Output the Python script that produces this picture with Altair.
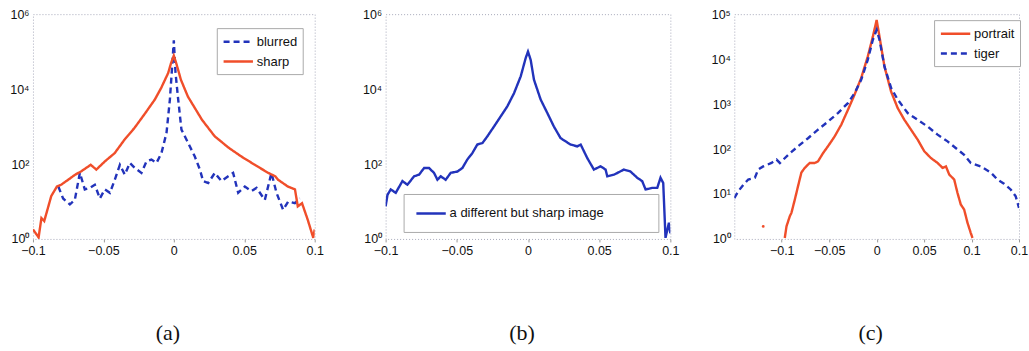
import altair as alt
import pandas as pd

# ---------------- data ----------------
# Panel (a)
a_sharp_x = [-0.1, -0.096, -0.094, -0.092, -0.087, -0.083, -0.080, -0.075, -0.070, -0.066,
             -0.059, -0.055, -0.049, -0.042, -0.035, -0.028, -0.021, -0.0135, -0.009, -0.004,
             -0.002, 0.0, 0.002, 0.005, 0.010, 0.020, 0.029, 0.039, 0.048, 0.0575,
             0.067, 0.072, 0.074, 0.081, 0.086, 0.088, 0.091, 0.095, 0.099, 0.1]
a_sharp_y = [1.8, 1.1, 3.6, 3.0, 14, 25, 28, 38, 52, 63,
             95, 71, 117, 195, 447, 912, 2090, 5250, 10700, 26900,
             49000, 78000, 45000, 17800, 6300, 1510, 550, 270, 158, 95,
             58, 47, 38, 25, 21, 7.4, 9, 3.3, 1.07, 1.8]

a_blur_x = [-0.082, -0.0786, -0.0738, -0.0703, -0.0667, -0.0632, -0.0596, -0.0561, -0.0525, -0.049,
            -0.0454, -0.0419, -0.0383, -0.0348, -0.0312, -0.0277, -0.023, -0.0194, -0.0159, -0.0123,
            -0.0088, -0.0052, -0.0028, -0.0012, 0.0, 0.0012, 0.0031, 0.0054, 0.0102, 0.0149,
            0.0185, 0.0208, 0.0244, 0.0291, 0.0338, 0.0386, 0.0421, 0.0457, 0.0504, 0.0551,
            0.0587, 0.0646, 0.0693, 0.0729, 0.0776, 0.0812, 0.0859, 0.0895]
a_blur_y = [25, 12, 8.3, 11, 58, 21, 23, 28, 12, 21,
            17, 38, 95, 52, 107, 78, 58, 117, 131, 107,
            195, 676, 5250, 40000, 200000, 27000, 5250, 830, 363, 158,
            71, 35, 31, 58, 35, 47, 58, 17, 25, 19,
            23, 11, 58, 17, 6, 10, 9, 12]

# Panel (b)
b_x = [-0.1, -0.0987, -0.0964, -0.0929, -0.0882, -0.0847, -0.08, -0.0765, -0.073, -0.0695,
       -0.066, -0.0636, -0.0613, -0.0578, -0.0543, -0.0496, -0.0461, -0.0426, -0.0391, -0.0356,
       -0.032, -0.0285, -0.0239, -0.0192, -0.0145, -0.0098, -0.0051, -0.0016, 0.0, 0.0019,
       0.0042, 0.0089, 0.0136, 0.0182, 0.0229, 0.0299, 0.0346, 0.037, 0.0416, 0.0463,
       0.051, 0.0545, 0.0557, 0.0604, 0.0674, 0.072, 0.0767, 0.0802, 0.0826, 0.0873,
       0.0908, 0.0931, 0.095, 0.0966, 0.099, 0.1]
b_y = [7.4, 15, 21, 17, 35, 28, 47, 52, 78, 78,
       58, 38, 47, 38, 58, 63, 78, 132, 195, 331,
       363, 550, 1000, 1860, 3470, 7760, 21900, 67600, 100000, 60000,
       17800, 5250, 2290, 1000, 490, 331, 295, 331, 145, 71,
       87, 71, 47, 52, 71, 63, 43, 35, 21, 23,
       23, 43, 31, 1.07, 2.7, 1.4]

# Panel (c)
c_tiger_x = [-0.15, -0.1458, -0.1405, -0.1353, -0.1283, -0.1248, -0.1195, -0.1108, -0.1055, -0.102,
             -0.0933, -0.0828, -0.0723, -0.0618, -0.0513, -0.0408, -0.0303, -0.0233, -0.0163, -0.0093,
             -0.004, 0.0, 0.003, 0.0082, 0.0152, 0.0222, 0.0327, 0.0432, 0.0537, 0.0642,
             0.0747, 0.0852, 0.0922, 0.0992, 0.1097, 0.1202, 0.1272, 0.1342, 0.1412, 0.1465, 0.15]
c_tiger_y = [8.1, 11.5, 16, 21, 23, 35, 41, 49, 58, 49,
             74, 115, 174, 269, 407, 631, 1050, 1740, 3470, 9770,
             26900, 44700, 26900, 6900, 2290, 1260, 631, 447, 316, 209,
             148, 98, 74, 49, 41, 30, 21, 17, 12.6, 8.9, 4.9]

c_portrait_x = [-0.0968, -0.095, -0.0915, -0.0898, -0.0863, -0.0828, -0.0793, -0.0758, -0.0705, -0.0653,
                -0.0618, -0.0565, -0.0513, -0.0443, -0.0373, -0.0303, -0.0233, -0.0163, -0.0093, -0.004,
                0.0, 0.003, 0.0082, 0.0152, 0.0222, 0.0292, 0.0362, 0.0432, 0.0502, 0.0572,
                0.0642, 0.0695, 0.073, 0.0765, 0.0817, 0.0852, 0.0887, 0.0922, 0.0957, 0.0992, 0.101]
c_portrait_y = [1.05, 1.9, 3.2, 3.8, 7.4, 15, 30, 38, 49, 49,
                53, 81, 115, 190, 347, 741, 1620, 3800, 11500, 31600,
                74000, 31600, 6900, 1900, 813, 447, 269, 162, 89, 63,
                49, 38, 41, 27, 21, 10.5, 5.8, 4.5, 2.3, 1.35, 1.05]
c_dot_x = [-0.1195]
c_dot_y = [1.9]

RED = "#f04e2a"
BLUE = "#2233bb"
FONT = "Liberation Sans"
SUP = "['⁰','¹','²','³','⁴','⁵','⁶']"


def frame(names, xs, ys):
    rows = []
    for n, xx, yy in zip(names, xs, ys):
        for a, b in zip(xx, yy):
            rows.append({"series": n, "x": a, "y": b})
    return pd.DataFrame(rows)


def panel(df, names, colors, dashes, xdom, xticks, ymax, yticks, caption, lx, ly, width,
          pad=5, label_expr=None):
    legkw = dict(title=None, orient="none", legendX=lx, legendY=ly,
                 symbolType="M-2.1,0H2.1", symbolSize=196, symbolStrokeWidth=2.5,
                 symbolOffset=8, labelOffset=10, labelLimit=400,
                 labelFont=FONT, labelFontSize=13, labelColor="#111",
                 strokeColor="#aaaaaa", fillColor="white", padding=pad,
                 rowPadding=4)
    if label_expr:
        legkw["labelExpr"] = label_expr
    leg = alt.Legend(**legkw)
    return alt.Chart(df).mark_line(strokeWidth=2.4, clip=True).encode(
        x=alt.X("x:Q", scale=alt.Scale(domain=xdom, nice=False, zero=False),
                axis=alt.Axis(values=xticks, format="~g", title=None, grid=False,
                              domain=False, tickSize=3, tickColor="#999",
                              labelFont=FONT, labelFontSize=12.5, labelColor="#111",
                              labelPadding=3, labelOverlap=False, labelFlush=False)),
        y=alt.Y("y:Q", scale=alt.Scale(type="log", domain=[1, ymax], nice=False),
                axis=alt.Axis(values=yticks, title=None, grid=False, domain=False,
                              tickSize=0, labelFont=FONT, labelFontSize=12.5,
                              labelColor="#111", labelPadding=4, labelOverlap=False,
                              labelFlush=False,
                              labelExpr="'10' + " + SUP + "[round(log(datum.value)/LN10)]")),
        color=alt.Color("series:N", scale=alt.Scale(domain=names, range=colors), legend=leg),
        strokeDash=alt.StrokeDash("series:N", scale=alt.Scale(domain=names, range=dashes), legend=leg),
    ).properties(
        width=width, height=225,
        title=alt.TitleParams(caption, orient="bottom", font="Liberation Serif", fontSize=22,
                              fontWeight="normal", color="#111", offset=66, anchor="middle",
                              frame="group", dx=-6),
    )


df_a = frame(["blurred", "sharp"], [a_blur_x, a_sharp_x], [a_blur_y, a_sharp_y])
pa = panel(df_a, ["blurred", "sharp"], [BLUE, RED], [[6, 4], [1, 0]],
           [-0.1, 0.1], [-0.1, -0.05, 0, 0.05, 0.1], 1e6, [1, 100, 1e4, 1e6],
           "(a)", 184, 14, 282)

df_b = frame(["a different but sharp image"], [b_x], [b_y])
pb = panel(df_b, ["a different but sharp image"], [BLUE], [[1, 0]],
           [-0.1, 0.1], [-0.1, -0.05, 0, 0.05, 0.1], 1e6, [1, 100, 1e4, 1e6],
           "(b)", 18, 180, 285, pad=11,
           label_expr="datum.label + '" + "\u00a0" * 12 + "\u200b'")

df_c = frame(["portrait", "tiger"], [c_portrait_x, c_tiger_x], [c_portrait_y, c_tiger_y])
pc_lines = panel(df_c, ["portrait", "tiger"], [RED, BLUE], [[1, 0], [6, 4]],
                 [-0.15, 0.15], [-0.1, -0.05, 0, 0.05, 0.1, 0.15], 1e5,
                 [1, 10, 100, 1000, 1e4, 1e5], "(c)", 200, 6, 285)
dot = alt.Chart(pd.DataFrame({"x": c_dot_x, "y": c_dot_y})).mark_circle(
    size=8, color=RED, opacity=1).encode(x="x:Q", y="y:Q")
pc = alt.layer(pc_lines, dot)

ab = alt.hconcat(pa, pb, spacing=37).resolve_scale(
    x="independent", y="independent", color="independent", strokeDash="independent"
).resolve_legend(color="independent", strokeDash="independent")

chart = alt.hconcat(ab, pc, spacing=30).resolve_scale(
    x="independent", y="independent", color="independent", strokeDash="independent"
).resolve_legend(color="independent", strokeDash="independent").properties(
    padding={"left": 9, "top": 7, "right": 0, "bottom": 0},
    background="white",
).configure_view(
    stroke="#a8aabb", strokeDash=[1, 2], strokeWidth=1
)

chart.save("out.html", embed_options={"renderer": "svg", "actions": False})
